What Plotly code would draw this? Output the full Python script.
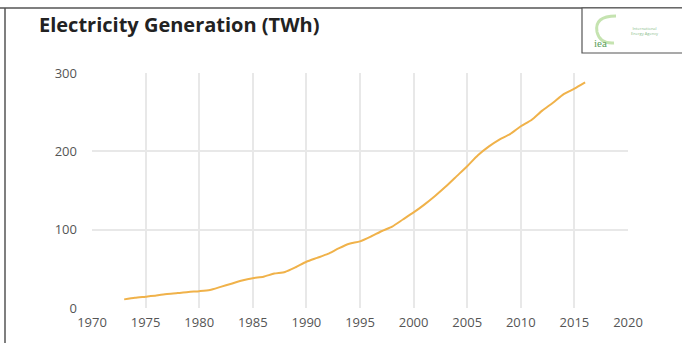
import plotly.graph_objects as go

# Electricity generation (TWh)
years = list(range(1973, 2017))
twh = [11, 13, 14.5, 16, 18, 19, 20.5, 21.5, 23, 27,
       31, 35, 38, 40, 44, 46, 52, 59, 64, 69,
       76, 82, 85, 91, 98, 104, 113, 122, 132, 143,
       155, 168, 181, 195, 206, 215, 222, 232, 240, 252,
       262, 273, 280, 288]

x_ticks = list(range(1970, 2021, 5))
y_ticks = [0, 100, 200, 300]

W, H = 682, 343
L, R, T, B = 92, 54, 73, 35


def px(x):
    return (x - L) / (W - L - R)


def py(y):
    return (H - B - y) / (H - T - B)


fig = go.Figure()

fig.add_trace(go.Scatter(
    x=years,
    y=twh,
    mode='lines',
    line=dict(color='#f0b24a', width=2, shape='spline', smoothing=0.6),
    hoverinfo='x+y',
    showlegend=False))

# frame lines (top and left) and the logo box
fig.add_shape(type='line', xref='paper', yref='paper',
              x0=px(0), x1=px(W), y0=py(8), y1=py(8),
              line=dict(color='#555555', width=1.5))
fig.add_shape(type='line', xref='paper', yref='paper',
              x0=px(5), x1=px(5), y0=py(8), y1=py(H),
              line=dict(color='#555555', width=1.5))
fig.add_shape(type='rect', xref='paper', yref='paper',
              x0=px(582), x1=px(W + 2), y0=py(8), y1=py(53),
              line=dict(color='#555555', width=1.2), fillcolor='white')
fig.add_shape(type='path', xref='paper', yref='paper',
              path=f'M {px(616)},{py(16)} Q {px(594)},{py(16)} {px(597)},{py(32)} '
                   f'Q {px(600)},{py(44)} {px(614)},{py(43)}',
              line=dict(color='#c5e3b0', width=3))

fig.add_annotation(x=px(609), y=py(35), xref='paper', yref='paper',
                   text='iea', showarrow=False,
                   font=dict(family='Georgia, serif', size=11, color='#5aa05a'))
fig.add_annotation(x=px(629), y=py(24), xref='paper', yref='paper',
                   xanchor='left', showarrow=False,
                   text='International<br>Energy Agency',
                   font=dict(family='Open Sans', size=4, color='#88bb88'))

fig.add_annotation(x=px(37), y=py(25), xref='paper', yref='paper',
                   xanchor='left', yanchor='middle', showarrow=False,
                   text='<b>Electricity Generation (TWh)</b>',
                   font=dict(family='Open Sans', size=20, color='#222222'))

fig.update_layout(
    width=W, height=H,
    margin=dict(l=L, r=R, t=T, b=B),
    paper_bgcolor='white',
    plot_bgcolor='white',
    font=dict(family='Open Sans', size=13, color='#555555'),
    xaxis=dict(range=[1970, 2020], tickvals=x_ticks, showgrid=True,
               gridcolor='#e8e8e8', gridwidth=1.5, zeroline=False,
               showline=False, ticks='', ticklabelstandoff=5,
               fixedrange=True),
    yaxis=dict(range=[0, 300], tickvals=y_ticks, showgrid=True,
               gridcolor='#e8e8e8', gridwidth=1.5, zeroline=False,
               showline=False, ticks='', ticklabelstandoff=14,
               fixedrange=True),
)

fig.write_html("out.html", config={'displayModeBar': False},
               post_script="document.body.style.margin='0';")
